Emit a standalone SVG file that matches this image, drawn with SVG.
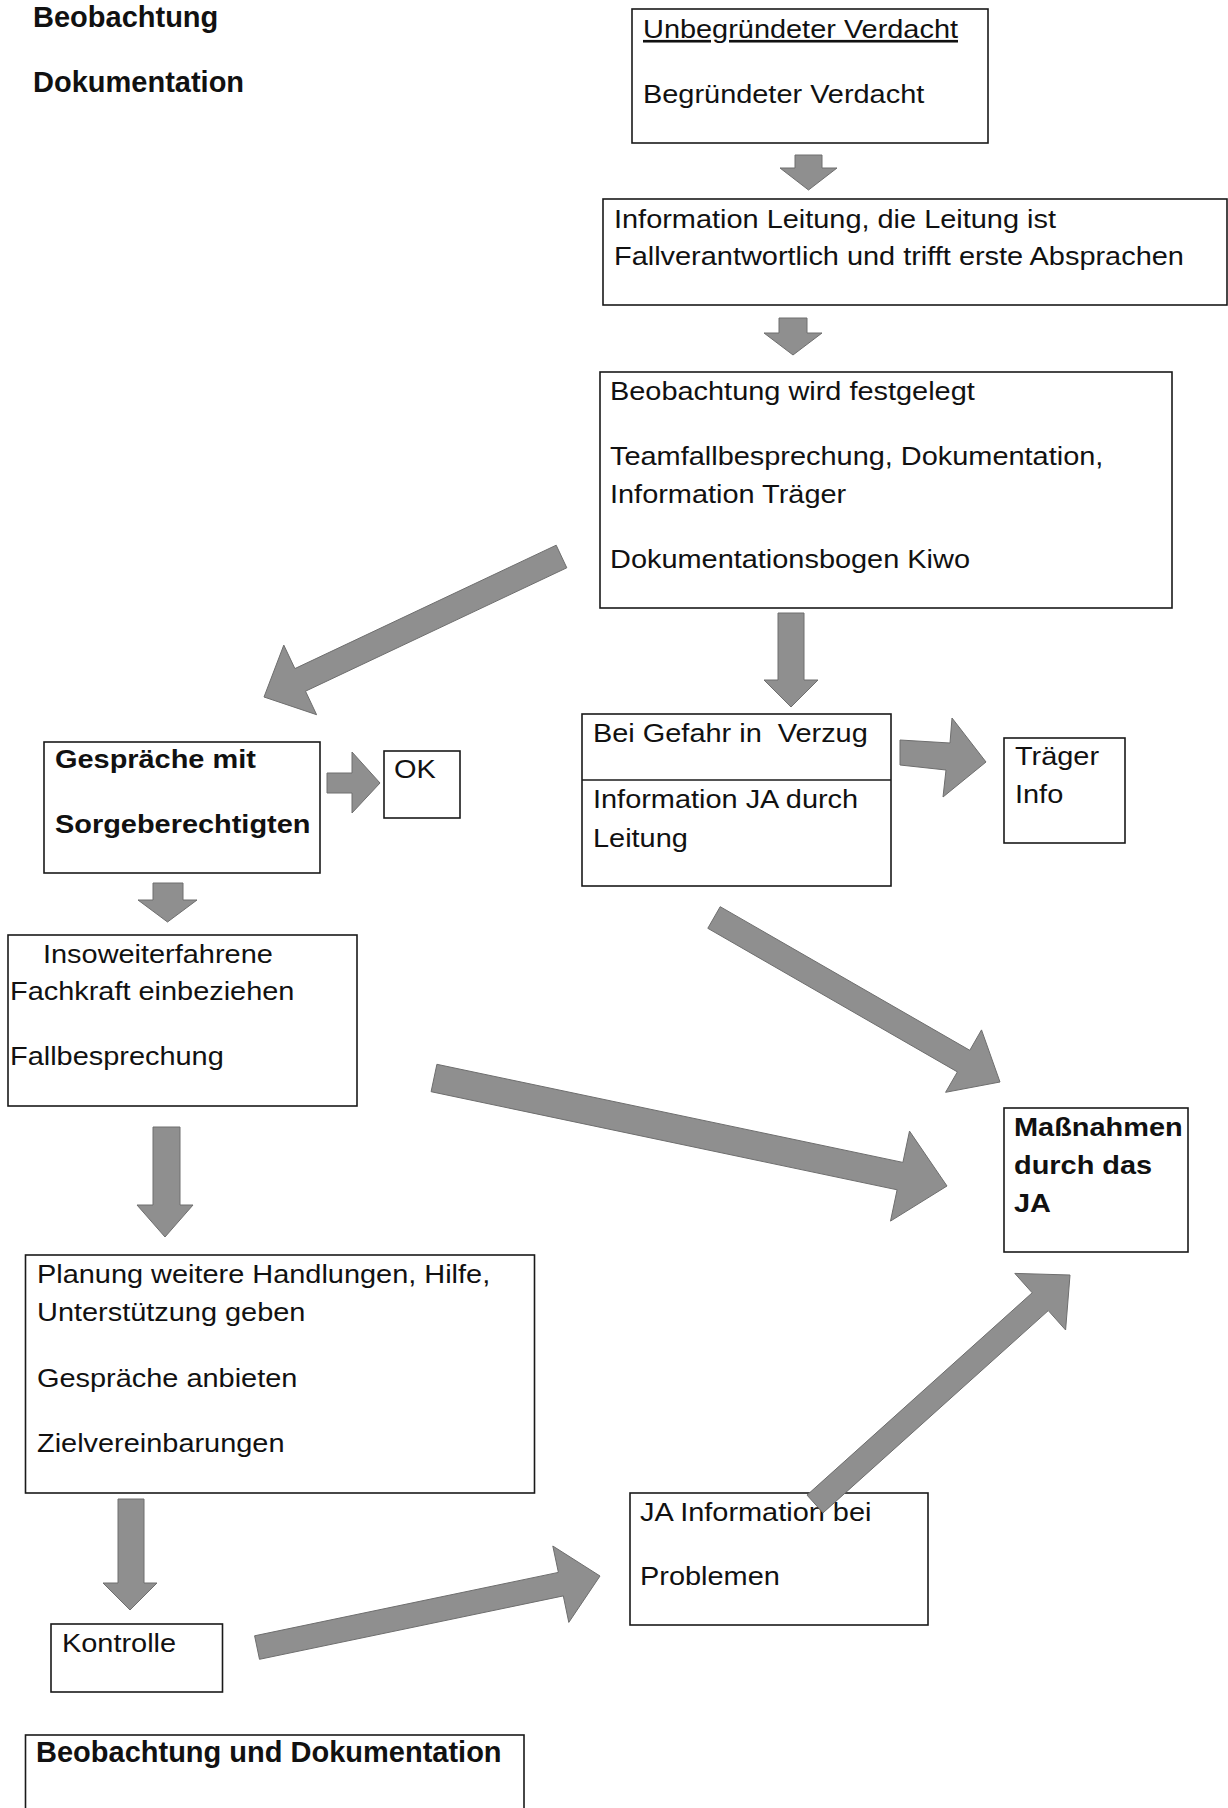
<svg xmlns="http://www.w3.org/2000/svg" width="1228" height="1808" viewBox="0 0 1228 1808">
<style>
.box{fill:#fff;stroke:#1a1a1a;stroke-width:1.6}
.t{font-family:"Liberation Sans",Arial,sans-serif;font-size:26.3px;fill:#111}
.b{font-weight:bold}
.h{font-family:"Liberation Sans",Arial,sans-serif;font-size:29px;font-weight:bold;fill:#111}
.arr{fill:#8f8f8f;stroke:#6e6e6e;stroke-width:1;stroke-linejoin:miter}
</style>
<rect width="1228" height="1808" fill="#fff"/>
<g id="header">
<text class="h" x="33" y="27">Beobachtung</text>
<text class="h" x="33" y="92">Dokumentation</text>
</g>
<g id="n-verdacht">
<rect class="box" x="632" y="9" width="356" height="134"/>
<text class="t" transform="translate(643,38) scale(1.1 1)" text-decoration="underline">Unbegründeter Verdacht</text>
<text class="t" transform="translate(643,103) scale(1.1 1)">Begründeter Verdacht</text>
</g>
<g id="n-leitung">
<rect class="box" x="603" y="199" width="624" height="106"/>
<text class="t" transform="translate(614,228) scale(1.1 1)">Information Leitung, die Leitung ist</text>
<text class="t" transform="translate(614,265) scale(1.1 1)">Fallverantwortlich und trifft erste Absprachen</text>
</g>
<g id="n-beobachtung">
<rect class="box" x="600" y="372" width="572" height="236"/>
<text class="t" transform="translate(610,400) scale(1.1 1)">Beobachtung wird festgelegt</text>
<text class="t" transform="translate(610,465) scale(1.1 1)">Teamfallbesprechung, Dokumentation,</text>
<text class="t" transform="translate(610,503) scale(1.1 1)">Information Träger</text>
<text class="t" transform="translate(610,568) scale(1.1 1)">Dokumentationsbogen Kiwo</text>
</g>
<g id="n-gefahr">
<rect class="box" x="582" y="714" width="309" height="172"/>
<line x1="582" y1="780" x2="891" y2="780" stroke="#1a1a1a" stroke-width="1.6"/>
<text class="t" transform="translate(593,742) scale(1.1 1)">Bei Gefahr in&#160; Verzug</text>
<text class="t" transform="translate(593,808) scale(1.1 1)">Information JA durch</text>
<text class="t" transform="translate(593,847) scale(1.1 1)">Leitung</text>
</g>
<g id="n-traeger">
<rect class="box" x="1004" y="738" width="121" height="105"/>
<text class="t" transform="translate(1015,765) scale(1.1 1)">Träger</text>
<text class="t" transform="translate(1015,803) scale(1.1 1)">Info</text>
</g>
<g id="n-gespraeche">
<rect class="box" x="44" y="742" width="276" height="131"/>
<text class="t b" transform="translate(55,768) scale(1.1 1)">Gespräche mit</text>
<text class="t b" transform="translate(55,833) scale(1.1 1)">Sorgeberechtigten</text>
</g>
<g id="n-ok">
<rect class="box" x="384" y="751" width="76" height="67"/>
<text class="t" transform="translate(394,778) scale(1.1 1)">OK</text>
</g>
<g id="n-fachkraft">
<rect class="box" x="8" y="935" width="349" height="171"/>
<text class="t" transform="translate(43,963) scale(1.1 1)">Insoweiterfahrene</text>
<text class="t" transform="translate(10,1000) scale(1.1 1)">Fachkraft einbeziehen</text>
<text class="t" transform="translate(10,1065) scale(1.1 1)">Fallbesprechung</text>
</g>
<g id="n-massnahmen">
<rect class="box" x="1004" y="1108" width="184" height="144"/>
<text class="t b" transform="translate(1014,1136) scale(1.1 1)">Maßnahmen</text>
<text class="t b" transform="translate(1014,1174) scale(1.1 1)">durch das</text>
<text class="t b" transform="translate(1014,1212) scale(1.1 1)">JA</text>
</g>
<g id="n-planung">
<rect class="box" x="25.5" y="1255" width="509" height="238"/>
<text class="t" transform="translate(37,1283) scale(1.1 1)">Planung weitere Handlungen, Hilfe,</text>
<text class="t" transform="translate(37,1321) scale(1.1 1)">Unterstützung geben</text>
<text class="t" transform="translate(37,1387) scale(1.1 1)">Gespräche anbieten</text>
<text class="t" transform="translate(37,1452) scale(1.1 1)">Zielvereinbarungen</text>
</g>
<g id="n-jainfo">
<rect class="box" x="630" y="1493" width="298" height="132"/>
<text class="t" transform="translate(640,1521) scale(1.1 1)">JA Information bei</text>
<text class="t" transform="translate(640,1585) scale(1.1 1)">Problemen</text>
</g>
<g id="n-kontrolle">
<rect class="box" x="51" y="1624" width="171.5" height="68"/>
<text class="t" transform="translate(62,1652) scale(1.1 1)">Kontrolle</text>
</g>
<g id="n-beobdoku">
<rect class="box" x="25.5" y="1735" width="498.5" height="100"/>
<text class="h" x="36" y="1762">Beobachtung und Dokumentation</text>
</g>
<g id="connectors">
<polygon class="arr" points="795,155 822,155 822,168 837,168 808.5,190 780,168 795,168"/>
<polygon class="arr" points="779,318 807,318 807,333 822,333 793,355 764,333 779,333"/>
<polygon class="arr" points="778,613 804,613 804,680 818,680 791,707 764,680 778,680"/>
<polygon class="arr" points="556.2,545.2 294.9,668.6 283.8,645.1 264,697 316.6,714.7 305.5,691.2 566.8,567.8"/>
<polygon class="arr" points="327,773 352,773 352,752 380,783 352,813 352,793 327,793"/>
<polygon class="arr" points="900,740 950,743 952,718 986,762 943,797 946,770 900,765"/>
<polygon class="arr" points="153,883 183,883 183,900 197,900 167.5,922 138,900 153,900"/>
<polygon class="arr" points="707.8,928.3 957.4,1071.9 945.6,1092.3 1000,1082 981.5,1029.9 969.8,1050.3 720.2,906.7"/>
<polygon class="arr" points="431.1,1091.7 897.1,1189.8 890.5,1221.1 947,1186 909.5,1131.1 902.9,1162.4 436.9,1064.3"/>
<polygon class="arr" points="153,1127 180,1127 180,1205 193,1205 165,1237 137,1205 153,1205"/>
<polygon class="arr" points="118,1499 144,1499 144,1583 157,1583 130,1610 103,1583 118,1583"/>
<polygon class="arr" points="259.5,1659.3 563.3,1595.9 568.8,1622.4 600,1576 552.8,1546 558.4,1572.4 254.6,1635.8"/>
<polygon class="arr" points="823,1512.9 1048.3,1310.6 1065.6,1330 1070,1275 1014.8,1273.4 1032.2,1292.8 807,1495.1"/>
</g>
</svg>
